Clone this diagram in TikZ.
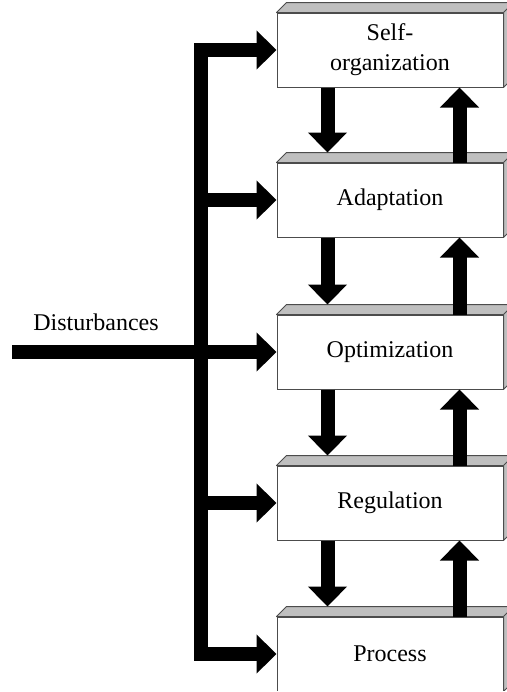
\documentclass[tikz,border=0pt]{standalone}
\usepackage{fontspec}
\setmainfont{Liberation Serif}
\usetikzlibrary{arrows.meta}
\tikzset{
  level/.style={draw=black!70, fill=white, line width=0.5pt, minimum width=113pt, minimum height=37pt, align=center, inner sep=0pt},
  face/.style={draw=black!70, fill=black!25, line width=0.5pt, line join=round},
  flow/.style={line width=7pt, -{Triangle[width=19pt,length=10pt]}, line join=miter},
}
\begin{document}
\begin{tikzpicture}[x=0.5pt,y=-0.5pt,font=\fontsize{12}{15}\selectfont]
\useasboundingbox (0,0) rectangle (507,692);
\clip (0,0) rectangle (507,690);
\node[level] (selforg) at (390,50) {Self-\\organization};
\node[level] (adapt) at (390,200) {Adaptation};
\node[level] (optim) at (390,352) {Optimization};
\node[level] (regul) at (390,503) {Regulation};
\node[level] (proc) at (390,654) {Process};
\foreach \b in {selforg,adapt,optim,regul,proc} {
  \draw[face] (\b.north west) -- ++(5pt,5pt) -- ([shift={(5pt,5pt)}]\b.north east) -- ([shift={(5pt,5pt)}]\b.south east) -- (\b.south east) -- (\b.north east) -- cycle;
  \draw[face] (\b.north east) -- ++(5pt,5pt);
}
\node (dist) at (96,322) {Disturbances};
\coordinate (src) at (12,352);
\coordinate (bus) at (201,352);
\draw[flow] (src) -- (optim.west);
\draw[flow] (bus) |- (selforg.west);
\draw[flow] (bus) |- (proc.west);
\draw[flow] (bus |- adapt.west) -- (adapt.west);
\draw[flow] (bus |- regul.west) -- (regul.west);
\foreach \a/\b in {selforg/adapt,adapt/optim,optim/regul,regul/proc} {
  \draw[flow] ([xshift=25.5pt]\a.south west) -- ([xshift=25.5pt,yshift=5pt]\b.north west);
  \draw[flow] ([xshift=-22pt]\b.north east) -- ([xshift=-22pt]\a.south east);
}
\end{tikzpicture}
\end{document}
